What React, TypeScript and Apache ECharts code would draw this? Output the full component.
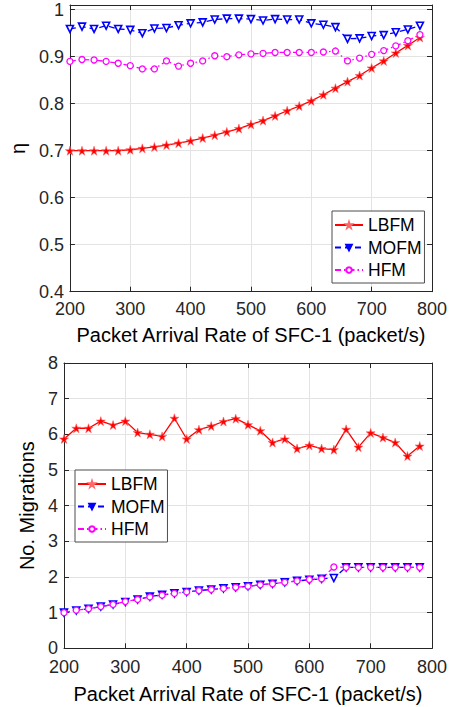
import React, { useEffect, useRef } from "react";
import * as echarts from "echarts";

const rates = [200, 220, 240, 260, 280, 300, 320, 340, 360, 380, 400, 420, 440, 460, 480, 500, 520, 540, 560, 580, 600, 620, 640, 660, 680, 700, 720, 740, 760, 780];

const etaLBFM = [0.700, 0.700, 0.700, 0.700, 0.700, 0.702, 0.705, 0.708, 0.712, 0.716, 0.721, 0.727, 0.733, 0.740, 0.747, 0.756, 0.764, 0.774, 0.785, 0.795, 0.806, 0.819, 0.833, 0.847, 0.860, 0.876, 0.891, 0.908, 0.924, 0.941];
const etaMOFM = [0.959, 0.964, 0.959, 0.966, 0.959, 0.957, 0.950, 0.960, 0.961, 0.967, 0.971, 0.973, 0.979, 0.981, 0.981, 0.980, 0.977, 0.980, 0.979, 0.979, 0.971, 0.968, 0.963, 0.938, 0.939, 0.944, 0.946, 0.952, 0.958, 0.966];
const etaHFM = [0.890, 0.894, 0.893, 0.890, 0.886, 0.881, 0.874, 0.874, 0.891, 0.880, 0.886, 0.891, 0.902, 0.900, 0.904, 0.906, 0.907, 0.909, 0.909, 0.909, 0.909, 0.910, 0.912, 0.891, 0.897, 0.905, 0.913, 0.923, 0.934, 0.947];

const migLBFM = [5.87, 6.17, 6.17, 6.37, 6.26, 6.37, 6.05, 6.00, 5.94, 6.45, 5.87, 6.13, 6.23, 6.36, 6.44, 6.27, 6.10, 5.77, 5.87, 5.60, 5.69, 5.60, 5.57, 6.14, 5.64, 6.04, 5.91, 5.77, 5.39, 5.67];
const migMOFM = [1.00, 1.06, 1.11, 1.17, 1.23, 1.30, 1.37, 1.45, 1.50, 1.54, 1.58, 1.62, 1.65, 1.68, 1.71, 1.74, 1.78, 1.81, 1.85, 1.89, 1.92, 1.95, 1.97, 2.27, 2.27, 2.27, 2.27, 2.27, 2.27, 2.27];
const migHFM = [1.00, 1.07, 1.11, 1.17, 1.23, 1.31, 1.37, 1.44, 1.49, 1.54, 1.58, 1.62, 1.65, 1.68, 1.71, 1.74, 1.78, 1.81, 1.85, 1.89, 1.93, 1.95, 2.28, 2.27, 2.27, 2.27, 2.27, 2.27, 2.27, 2.27];

const seriesNames = ["LBFM", "MOFM", "HFM"];
const xTitle = "Packet Arrival Rate of SFC-1 (packet/s)";

const FONT = "'Liberation Sans', Arial, Helvetica, sans-serif";
const AX = "#262626";
const GRIDC = "#e3e3e3";
const STAR = "path://M0,-10 L2.245,-3.09 L9.51,-3.09 L3.633,1.18 L5.88,8.09 L0,3.82 L-5.88,8.09 L-3.633,1.18 L-9.51,-3.09 L-2.245,-3.09 Z";

const pairs = (ys: number[]) => rates.map((x, i) => [x, ys[i]]);

export default function App() {
  const ref = useRef<HTMLDivElement>(null);
  useEffect(() => {
    document.body.style.margin = "0";
    const chart = echarts.init(ref.current!, null, { renderer: "svg" });

    const xMain = (gridIndex: number, margin: number, nameGap: number) => ({
      type: "value", gridIndex, min: 200, max: 800, interval: 100,
      position: "bottom",
      name: xTitle, nameLocation: "middle", nameGap,
      nameTextStyle: { fontSize: 20, color: "#000", fontFamily: FONT },
      axisLine: { show: true, onZero: false, lineStyle: { color: AX, width: 1 } },
      axisTick: { show: true, inside: true, length: 5, lineStyle: { color: AX } },
      axisLabel: { fontSize: 18, color: AX, fontFamily: FONT, margin },
      splitLine: { show: true, lineStyle: { color: GRIDC, width: 1 } },
    });
    const xTop = (gridIndex: number) => ({
      type: "value", gridIndex, min: 200, max: 800, interval: 100,
      position: "top",
      axisLine: { show: true, onZero: false, lineStyle: { color: AX, width: 1 } },
      axisTick: { show: true, inside: true, length: 5, lineStyle: { color: AX } },
      axisLabel: { show: false },
      splitLine: { show: false },
    });
    const yMain = (gridIndex: number, min: number, max: number, interval: number, name: string, nameGap: number) => ({
      type: "value", gridIndex, min, max, interval,
      position: "left",
      name, nameLocation: "middle", nameGap,
      nameTextStyle: { fontSize: 20, color: "#000", fontFamily: FONT },
      axisLine: { show: true, onZero: false, lineStyle: { color: AX, width: 1 } },
      axisTick: { show: true, inside: true, length: 5, lineStyle: { color: AX } },
      axisLabel: { fontSize: 18, color: AX, fontFamily: FONT, margin: 6, showMaxLabel: max === 8 },
      splitLine: { show: true, lineStyle: { color: GRIDC, width: 1 } },
    });
    const yRight = (gridIndex: number, min: number, max: number, interval: number) => ({
      type: "value", gridIndex, min, max, interval,
      position: "right",
      axisLine: { show: true, onZero: false, lineStyle: { color: AX, width: 1 } },
      axisTick: { show: true, inside: true, length: 5, lineStyle: { color: AX } },
      axisLabel: { show: false },
      splitLine: { show: false },
    });

    const mkSeries = (xi: number, yi: number, lb: number[], mo: number[], hf: number[]) => [
      {
        name: "LBFM", type: "line", xAxisIndex: xi, yAxisIndex: yi, data: pairs(lb),
        symbol: STAR, symbolSize: 9, showAllSymbol: true,
        lineStyle: { color: "#ff0000", width: 1.3, type: "solid" },
        itemStyle: { color: "#ff0000", borderColor: "#ff6666", borderWidth: 0.6 },
      },
      {
        name: "MOFM", type: "line", xAxisIndex: xi, yAxisIndex: yi, data: pairs(mo),
        symbol: "triangle", symbolRotate: 180, symbolSize: 7, showAllSymbol: true,
        lineStyle: { color: "#0000ff", width: 1.3, type: [6, 4] },
        itemStyle: { color: "#ffffff", borderColor: "#0000ff", borderWidth: 1.6 },
      },
      {
        name: "HFM", type: "line", xAxisIndex: xi, yAxisIndex: yi, data: pairs(hf),
        symbol: "circle", symbolSize: 6, showAllSymbol: true,
        lineStyle: { color: "#ff00ff", width: 1.3, type: [6, 3, 1.5, 3] },
        itemStyle: { color: "#ffffff", borderColor: "#ff00ff", borderWidth: 1.3 },
      },
    ];

    const legendData = [
      { name: seriesNames[0] },
      { name: seriesNames[1], itemStyle: { color: "#0000ff", borderColor: "#0000ff" } },
      { name: seriesNames[2] },
    ];
    const mkLegend = (left: number, top: number) => ({
      data: legendData, orient: "vertical", left, top,
      itemWidth: 28, itemHeight: 7, itemGap: 4.5,
      padding: [5, 3, 4, 2],
      backgroundColor: "#ffffff", borderColor: "#4d4d4d", borderWidth: 1,
      textStyle: { fontSize: 17.5, color: "#000", fontFamily: FONT, lineHeight: 18 },
      selectedMode: false,
    });

    chart.setOption({
      animation: false,
      backgroundColor: "#ffffff",
      textStyle: { fontFamily: FONT },
      grid: [
        { left: 64, top: 5, width: 368, height: 286.7, containLabel: false },
        { left: 64, top: 363, width: 368, height: 285.3, containLabel: false },
      ],
      xAxis: [xMain(0, 8, 33), xTop(0), xMain(1, 10, 36), xTop(1)],
      yAxis: [
        yMain(0, 0.4, 1.01, 0.1, "η", 30),
        yRight(0, 0.4, 1.01, 0.1),
        yMain(1, 0, 8, 1, "No. Migrations", 17),
        yRight(1, 0, 8, 1),
      ],
      legend: [mkLegend(332, 211), mkLegend(75, 470)],
      series: [
        ...mkSeries(0, 0, etaLBFM, etaMOFM, etaHFM),
        ...mkSeries(2, 2, migLBFM, migMOFM, migHFM),
      ],
    });
    return () => chart.dispose();
  }, []);
  return <div ref={ref} style={{ width: 452, height: 707 }} />;
}
